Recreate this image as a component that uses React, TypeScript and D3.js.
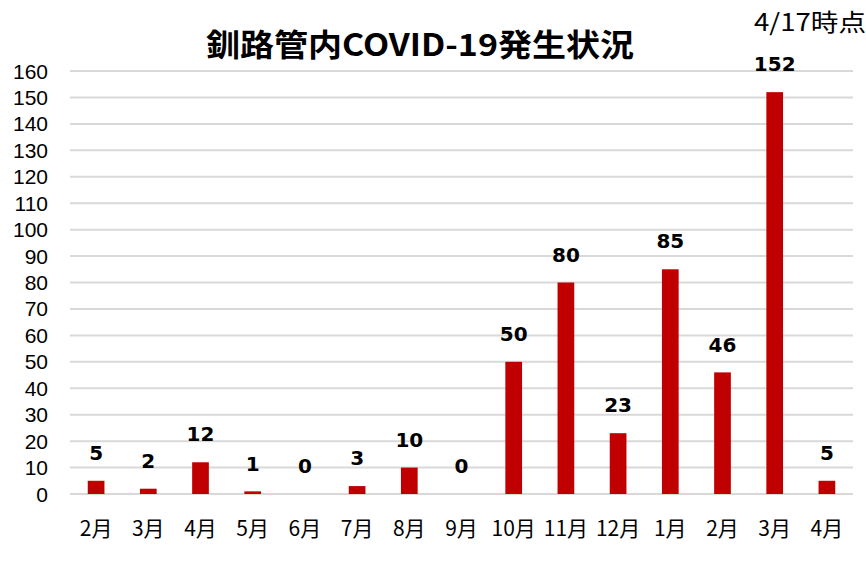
import React, { useRef, useEffect } from 'react';
import * as d3 from 'd3';

const months = ['2月', '3月', '4月', '5月', '6月', '7月', '8月', '9月', '10月', '11月', '12月', '1月', '2月', '3月', '4月'];
const cases = [5, 2, 12, 1, 0, 3, 10, 0, 50, 80, 23, 85, 46, 152, 5];
const yTicks = d3.range(0, 161, 10);

const title = '釧路管内COVID-19発生状況';
const asOf = '4/17時点';

const App = () => {
  const ref = useRef<SVGGElement>(null);
  const width = 866;
  const height = 584;

  useEffect(() => {
    const g = d3.select(ref.current);
    g.selectAll('*').remove();

    const left = 70;
    const right = 853;
    const top = 71;
    const bottom = 494;

    const x = d3
      .scaleBand()
      .domain(months.map((m, i) => i + ''))
      .range([left, right])
      .paddingInner(0.68)
      .paddingOuter(0.34);

    const y = d3.scaleLinear().domain([0, 160]).range([bottom, top]);

    // gridlines
    g.selectAll('line.grid')
      .data(yTicks)
      .enter()
      .append('line')
      .attr('x1', left)
      .attr('x2', right)
      .attr('y1', d => y(d))
      .attr('y2', d => y(d))
      .attr('stroke', '#d9d9d9')
      .attr('stroke-width', 2);

    // y tick labels
    g.selectAll('text.ytick')
      .data(yTicks)
      .enter()
      .append('text')
      .attr('x', 48)
      .attr('y', d => y(d))
      .attr('dy', '0.36em')
      .attr('text-anchor', 'end')
      .attr('font-family', '"Liberation Sans", Arial, sans-serif')
      .attr('font-size', 21)
      .attr('fill', '#000')
      .text(d => d);

    // bars
    g.selectAll('rect')
      .data(cases)
      .enter()
      .append('rect')
      .attr('x', (d, i) => x(i + ''))
      .attr('y', d => y(d))
      .attr('width', x.bandwidth())
      .attr('height', d => bottom - y(d))
      .attr('fill', '#c00000');

    // value labels
    g.selectAll('text.val')
      .data(cases)
      .enter()
      .append('text')
      .attr('x', (d, i) => x(i + '') + x.bandwidth() / 2)
      .attr('y', d => y(d) - 28)
      .attr('dy', '0.36em')
      .attr('text-anchor', 'middle')
      .attr('font-family', '"DejaVu Sans", Verdana, sans-serif')
      .attr('font-weight', 'bold')
      .attr('font-size', 20)
      .attr('fill', '#000')
      .text(d => d);

    // month labels
    g.selectAll('text.month')
      .data(months)
      .enter()
      .append('text')
      .attr('x', (d, i) => x(i + '') + x.bandwidth() / 2)
      .attr('y', 528)
      .attr('dy', '0.36em')
      .attr('text-anchor', 'middle')
      .attr('font-family', '"Noto Sans CJK JP", sans-serif')
      .attr('font-size', 21)
      .attr('fill', '#000')
      .text(d => d);

    g.append('text')
      .attr('x', 420)
      .attr('y', 45)
      .attr('dy', '0.36em')
      .attr('text-anchor', 'middle')
      .attr('font-family', '"Noto Sans CJK JP", sans-serif')
      .attr('font-weight', 'bold')
      .attr('font-size', 31)
      .attr('textLength', 428)
      .attr('lengthAdjust', 'spacingAndGlyphs')
      .attr('fill', '#000')
      .text(title);

    g.append('text')
      .attr('x', 866)
      .attr('y', 22)
      .attr('dy', '0.36em')
      .attr('text-anchor', 'end')
      .attr('font-family', '"Noto Sans CJK JP", sans-serif')
      .attr('font-size', 24)
      .attr('textLength', 112)
      .attr('lengthAdjust', 'spacingAndGlyphs')
      .attr('fill', '#000')
      .text(asOf);
  }, []);

  return (
    <svg width={width} height={height} style={{ position: 'absolute', left: 0, top: 0, background: '#fff' }}>
      <g ref={ref} />
    </svg>
  );
};

export default App;
